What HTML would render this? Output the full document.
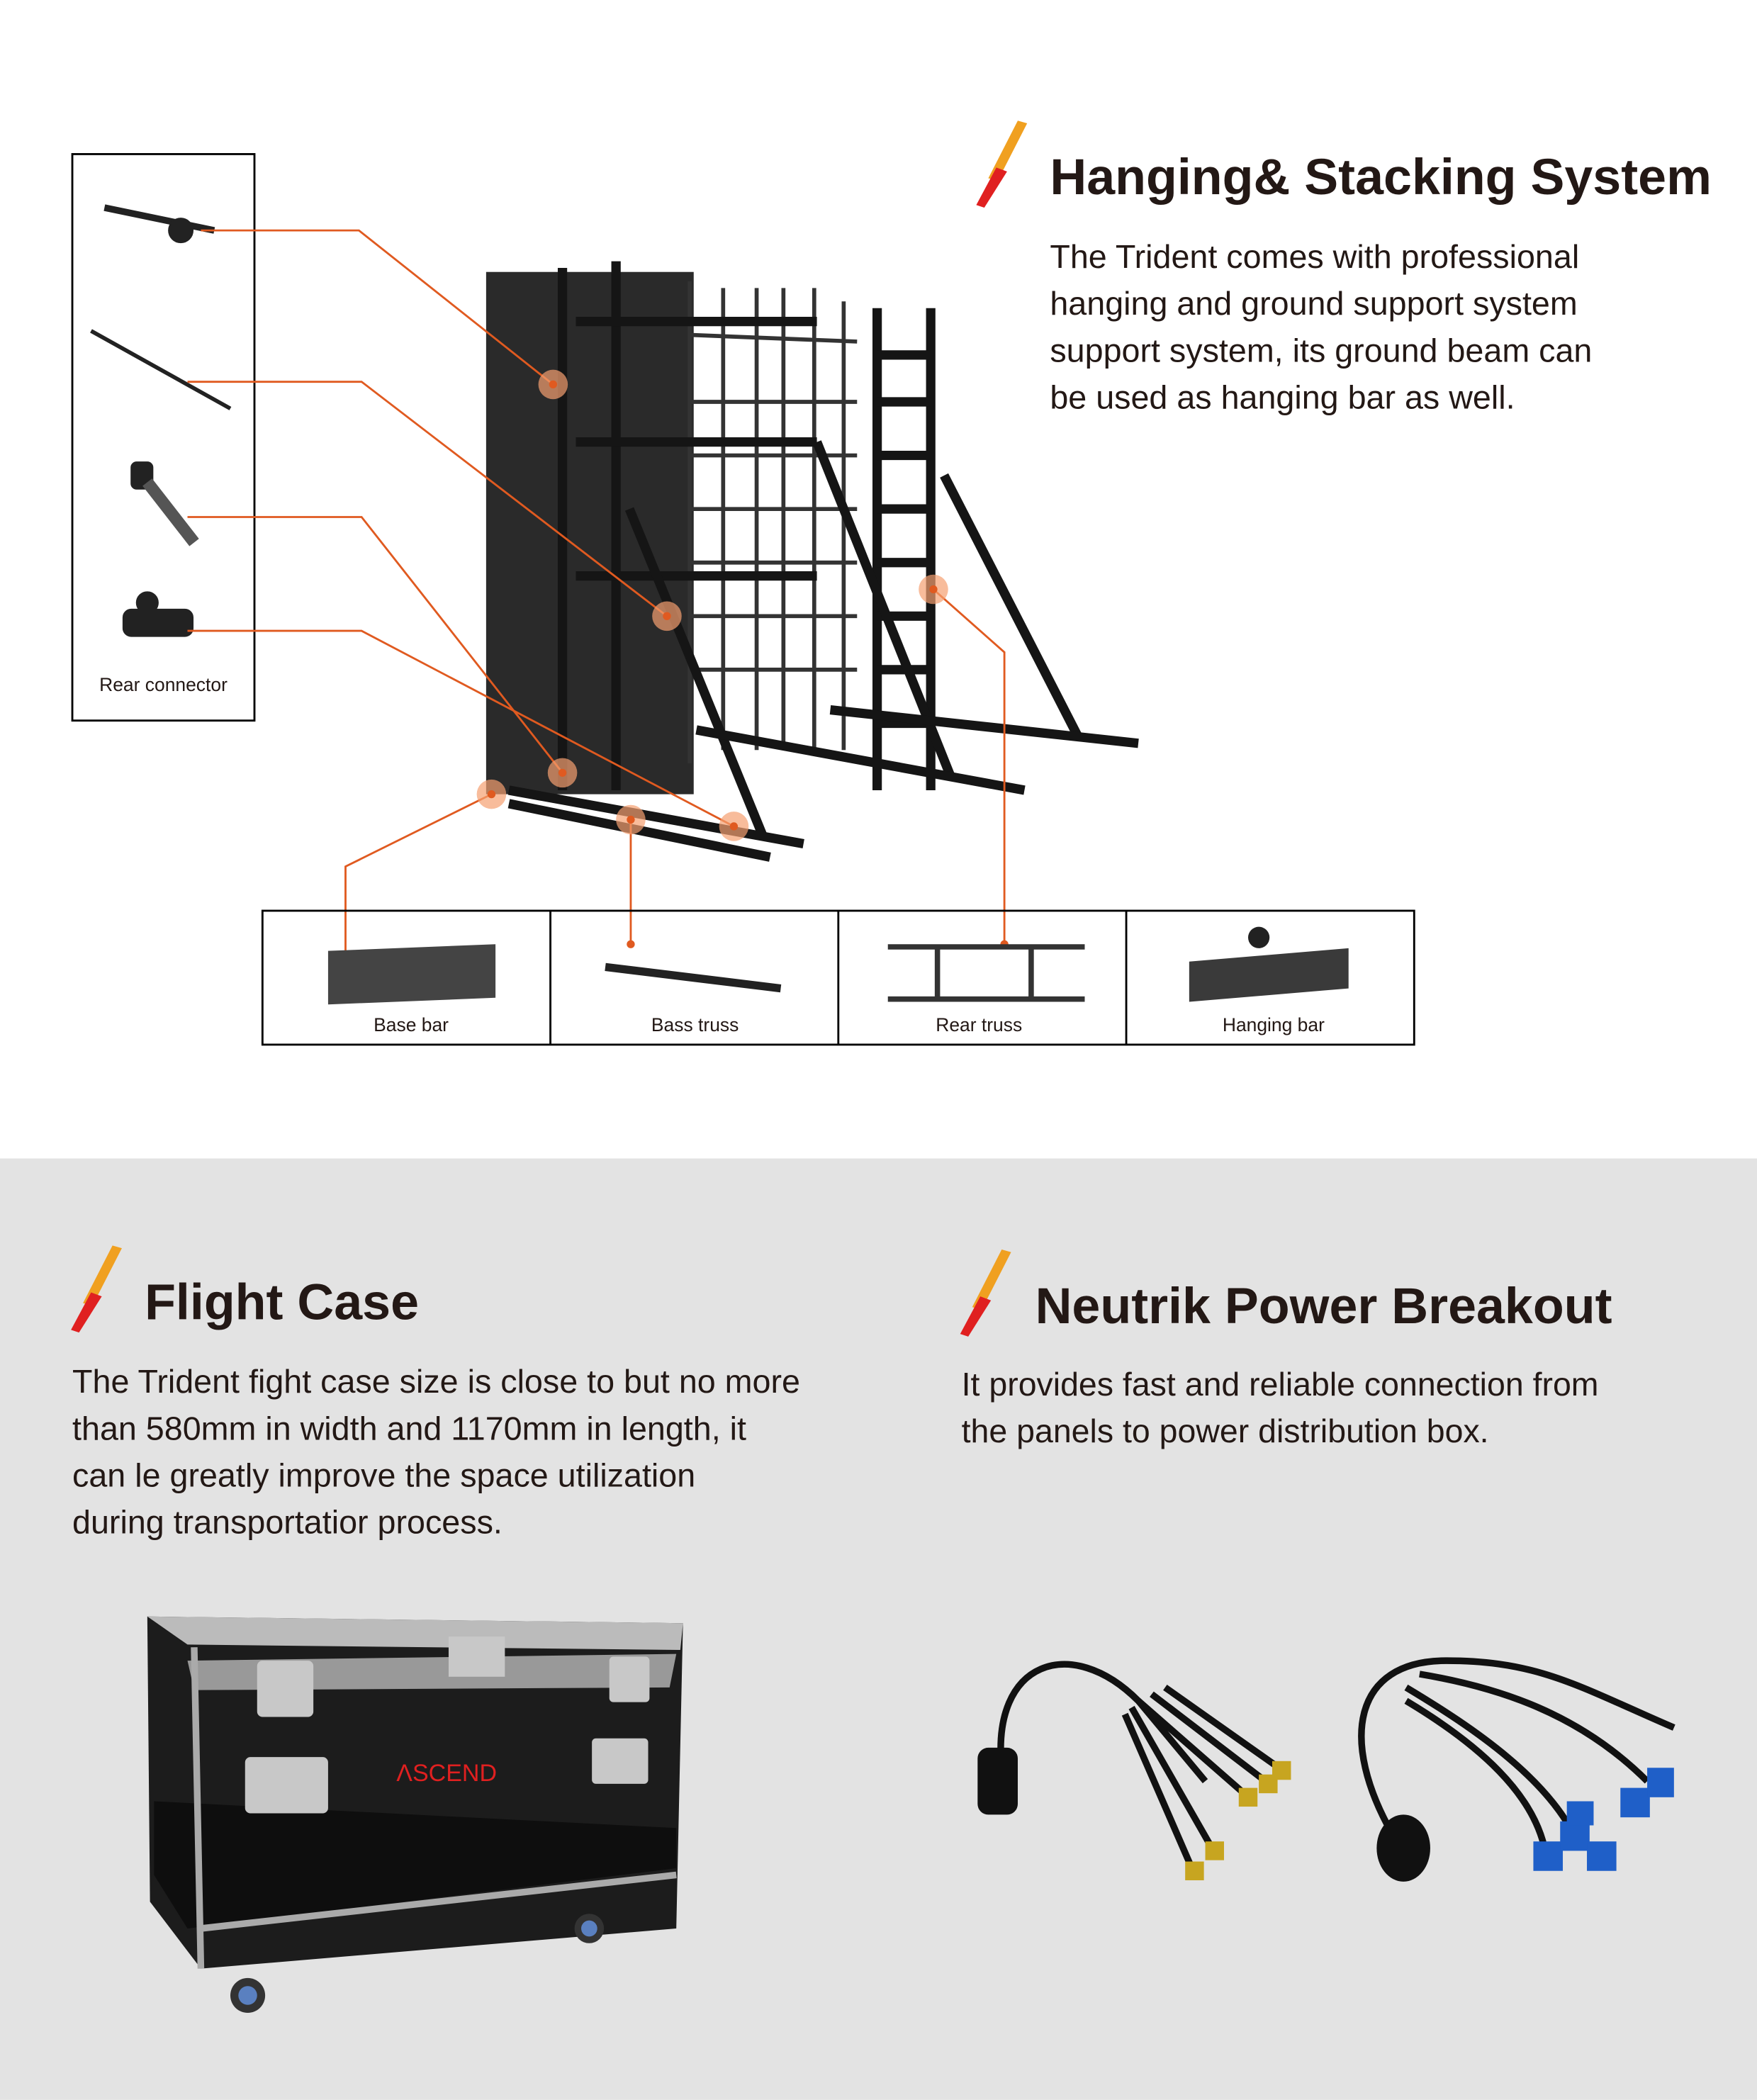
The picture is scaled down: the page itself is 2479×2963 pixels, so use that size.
<!DOCTYPE html>
<html><head><meta charset="utf-8"><style>
html,body{margin:0;padding:0;background:#fff}
svg{display:block}
text{font-family:"Liberation Sans",sans-serif;fill:#231815}
</style></head><body>
<svg width="2479" height="2963" viewBox="0 0 1312 1568" xmlns="http://www.w3.org/2000/svg">
<rect x="0" y="0" width="1312" height="865" fill="#fff"/>
<rect x="0" y="865" width="1312" height="703" fill="#e3e3e3"/>

<g id="logo">
<polygon points="760,90 767,92 745,135 738,133" fill="#f0a020"/>
<polygon points="744,125 752,128 735,155 729,153" fill="#e02020"/>
</g>
<g transform="translate(-676,840)"><polygon points="760,90 767,92 745,135 738,133" fill="#f0a020"/><polygon points="744,125 752,128 735,155 729,153" fill="#e02020"/></g>
<g transform="translate(-12,843)"><polygon points="760,90 767,92 745,135 738,133" fill="#f0a020"/><polygon points="744,125 752,128 735,155 729,153" fill="#e02020"/></g>

<text x="784" y="145" font-size="38" font-weight="bold">Hanging&amp; Stacking System</text>
<g font-size="24.7">
<text x="784" y="200">The Trident comes with professional</text>
<text x="784" y="235">hanging and ground support system</text>
<text x="784" y="270">support system, its ground beam can</text>
<text x="784" y="305">be used as hanging bar as well.</text>
</g>

<rect x="54" y="115" width="136" height="423" fill="none" stroke="#000" stroke-width="1.5"/>
<g fill="#222" stroke="#222">
<line x1="78" y1="155" x2="160" y2="172" stroke-width="5"/><circle cx="135" cy="172" r="9"/>
<line x1="68" y1="247" x2="172" y2="305" stroke-width="3"/>
<rect x="98" y="345" width="16" height="20" rx="4"/><line x1="110" y1="360" x2="145" y2="405" stroke-width="9" stroke="#555"/>
<rect x="92" y="455" width="52" height="20" rx="6"/><circle cx="110" cy="450" r="8"/>
</g>
<text x="122" y="516" font-size="14" text-anchor="middle">Rear connector</text>

<g stroke="#1a1a1a" fill="none">
<rect x="363" y="203" width="155" height="390" fill="#2a2a2a" stroke="none"/>
<g stroke-width="3" stroke="#333">
<line x1="515" y1="210" x2="515" y2="570"/><line x1="540" y1="215" x2="540" y2="560"/><line x1="565" y1="215" x2="565" y2="560"/>
<line x1="585" y1="215" x2="585" y2="560"/><line x1="608" y1="215" x2="608" y2="560"/><line x1="630" y1="225" x2="630" y2="560"/>
<line x1="515" y1="250" x2="640" y2="255"/><line x1="515" y1="300" x2="640" y2="300"/><line x1="515" y1="340" x2="640" y2="340"/>
<line x1="515" y1="380" x2="640" y2="380"/><line x1="515" y1="420" x2="640" y2="420"/><line x1="515" y1="460" x2="640" y2="460"/><line x1="515" y1="500" x2="640" y2="500"/>
</g>
<g stroke-width="7" stroke="#151515">
<line x1="420" y1="200" x2="420" y2="590"/><line x1="460" y1="195" x2="460" y2="590"/>
<line x1="430" y1="240" x2="610" y2="240"/><line x1="430" y1="330" x2="610" y2="330"/><line x1="430" y1="430" x2="610" y2="430"/>
<line x1="655" y1="230" x2="655" y2="590"/><line x1="695" y1="230" x2="695" y2="590"/>
<line x1="655" y1="265" x2="695" y2="265"/><line x1="655" y1="300" x2="695" y2="300"/><line x1="655" y1="340" x2="695" y2="340"/><line x1="655" y1="380" x2="695" y2="380"/><line x1="655" y1="420" x2="695" y2="420"/><line x1="655" y1="460" x2="695" y2="460"/><line x1="655" y1="500" x2="695" y2="500"/><line x1="655" y1="540" x2="695" y2="540"/>
<line x1="470" y1="380" x2="570" y2="625"/><line x1="610" y1="330" x2="710" y2="580"/><line x1="705" y1="355" x2="805" y2="550"/>
<line x1="380" y1="590" x2="600" y2="630"/><line x1="380" y1="600" x2="575" y2="640"/>
<line x1="520" y1="545" x2="765" y2="590"/><line x1="620" y1="530" x2="850" y2="555"/>
</g>
</g>

<g stroke="#e05a20" stroke-width="1.5" fill="none">
<polyline points="150,172 268,172 413,287"/>
<polyline points="140,285 270,285 498,460"/>
<polyline points="140,386 270,386 420,577"/>
<polyline points="140,471 270,471 548,617"/>
<polyline points="258,715 258,647 367,593"/>
<polyline points="471,705 471,612"/>
<polyline points="750,705 750,487 697,440"/>
</g>
<g fill="#f5a070" fill-opacity="0.7">
<circle cx="413" cy="287" r="11"/><circle cx="498" cy="460" r="11"/><circle cx="420" cy="577" r="11"/><circle cx="548" cy="617" r="11"/><circle cx="367" cy="593" r="11"/><circle cx="471" cy="612" r="11"/><circle cx="697" cy="440" r="11"/>
</g>
<g fill="#e05a20"><circle cx="413" cy="287" r="3"/><circle cx="498" cy="460" r="3"/><circle cx="420" cy="577" r="3"/><circle cx="548" cy="617" r="3"/><circle cx="367" cy="593" r="3"/><circle cx="471" cy="612" r="3"/><circle cx="697" cy="440" r="3"/><circle cx="258" cy="715" r="3"/><circle cx="471" cy="705" r="3"/><circle cx="750" cy="705" r="3"/></g>

<rect x="196" y="680" width="860" height="100" fill="none" stroke="#000" stroke-width="1.5"/>
<line x1="411" y1="680" x2="411" y2="780" stroke="#000" stroke-width="1.5"/>
<line x1="626" y1="680" x2="626" y2="780" stroke="#000" stroke-width="1.5"/>
<line x1="841" y1="680" x2="841" y2="780" stroke="#000" stroke-width="1.5"/>
<polygon points="245,710 370,705 370,745 245,750" fill="#444"/>
<line x1="452" y1="722" x2="583" y2="738" stroke="#222" stroke-width="6"/>
<g stroke="#333" stroke-width="4"><line x1="663" y1="707" x2="810" y2="707"/><line x1="663" y1="746" x2="810" y2="746"/><line x1="700" y1="707" x2="700" y2="746"/><line x1="770" y1="707" x2="770" y2="746"/></g>
<polygon points="888,718 1007,708 1007,738 888,748" fill="#3a3a3a"/><circle cx="940" cy="700" r="8" fill="#222"/>
<g font-size="14" text-anchor="middle">
<text x="307" y="770">Base bar</text><text x="519" y="770">Bass truss</text><text x="731" y="770">Rear truss</text><text x="951" y="770">Hanging bar</text>
</g>

<text x="108" y="985" font-size="38" font-weight="bold">Flight Case</text>
<g font-size="24.7">
<text x="54" y="1040">The Trident fight case size is close to but no more</text>
<text x="54" y="1075">than 580mm in width and 1170mm in length, it</text>
<text x="54" y="1110">can le greatly improve the space utilization</text>
<text x="54" y="1145">during transportatior process.</text>
</g>
<polygon points="110,1207 510,1212 505,1440 150,1470 112,1420" fill="#1c1c1c"/>
<polygon points="110,1207 510,1212 508,1232 140,1228" fill="#bbb"/>
<polygon points="140,1240 505,1235 500,1260 145,1262" fill="#999"/>
<polygon points="115,1345 505,1365 505,1395 140,1440 115,1400" fill="#0e0e0e"/>
<line x1="150" y1="1440" x2="505" y2="1400" stroke="#aaa" stroke-width="5"/>
<line x1="145" y1="1230" x2="150" y2="1470" stroke="#aaa" stroke-width="5"/>
<g fill="#c8c8c8"><rect x="192" y="1240" width="42" height="42" rx="4"/><rect x="455" y="1237" width="30" height="34" rx="3"/><rect x="183" y="1312" width="62" height="42" rx="4"/><rect x="442" y="1298" width="42" height="34" rx="3"/><rect x="335" y="1222" width="42" height="30"/></g>
<text x="296" y="1330" font-size="18" style="fill:#e02020">ΛSCEND</text>
<circle cx="185" cy="1490" r="13" fill="#333"/><circle cx="185" cy="1490" r="7" fill="#5a80c0"/>
<circle cx="440" cy="1440" r="11" fill="#333"/><circle cx="440" cy="1440" r="6" fill="#5a80c0"/>

<text x="773" y="988" font-size="38" font-weight="bold">Neutrik Power Breakout</text>
<g font-size="24.6">
<text x="718" y="1042">It provides fast and reliable connection from</text>
<text x="718" y="1077">the panels to power distribution box.</text>
</g>
<g fill="none" stroke="#111" stroke-width="5">
<path d="M748,1320 C740,1240 800,1220 850,1270 L900,1330"/>
<path d="M850,1270 L930,1340 M860,1265 L945,1330 M870,1260 L955,1320 M845,1275 L905,1380 M840,1280 L890,1395"/>
<path d="M1040,1370 C1000,1300 1010,1240 1080,1240 C1150,1240 1180,1260 1250,1290 M1060,1250 C1120,1260 1180,1280 1230,1330 M1050,1260 C1100,1290 1160,1330 1180,1380 M1050,1270 C1100,1300 1150,1340 1155,1390"/>
</g>
<rect x="730" y="1305" width="30" height="50" rx="8" fill="#111"/>
<g fill="#c7a520"><rect x="925" y="1335" width="14" height="14"/><rect x="940" y="1325" width="14" height="14"/><rect x="950" y="1315" width="14" height="14"/><rect x="900" y="1375" width="14" height="14"/><rect x="885" y="1390" width="14" height="14"/></g>
<ellipse cx="1048" cy="1380" rx="20" ry="25" fill="#111"/>
<g fill="#1f5fc8"><rect x="1145" y="1375" width="22" height="22"/><rect x="1165" y="1360" width="22" height="22"/><rect x="1185" y="1375" width="22" height="22"/><rect x="1210" y="1335" width="22" height="22"/><rect x="1230" y="1320" width="20" height="22"/><rect x="1170" y="1345" width="20" height="18"/></g>
</svg>
</body></html>
